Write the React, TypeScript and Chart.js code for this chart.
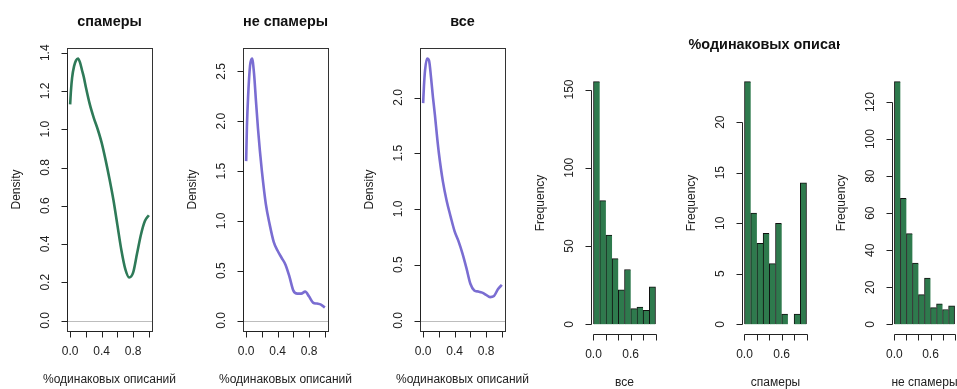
import React, { useEffect, useRef } from 'react';
import { Chart, registerables } from 'chart.js';

Chart.register(...registerables);

// ---------------- data ----------------
const densityX = [0, 0.01, 0.025, 0.05, 0.075, 0.1, 0.125, 0.15, 0.175, 0.2, 0.25, 0.3, 0.35, 0.4, 0.45, 0.5, 0.55, 0.6, 0.65, 0.7, 0.75, 0.8, 0.85, 0.9, 0.95, 1.0];
const densitySpam = [1.13, 1.2, 1.27, 1.33, 1.36, 1.37, 1.35, 1.31, 1.27, 1.22, 1.13, 1.06, 1.0, 0.93, 0.84, 0.74, 0.63, 0.5, 0.37, 0.27, 0.225, 0.25, 0.35, 0.45, 0.52, 0.55];
const densityNonSpam = [1.6, 1.95, 2.25, 2.56, 2.63, 2.48, 2.2, 1.93, 1.7, 1.5, 1.17, 0.96, 0.79, 0.7, 0.63, 0.56, 0.44, 0.3, 0.27, 0.27, 0.29, 0.24, 0.18, 0.17, 0.16, 0.13];
const densityAll = [1.95, 2.1, 2.25, 2.35, 2.33, 2.18, 2.0, 1.84, 1.66, 1.5, 1.25, 1.07, 0.93, 0.8, 0.71, 0.6, 0.47, 0.33, 0.27, 0.26, 0.25, 0.23, 0.21, 0.22, 0.28, 0.32];

const binEdges = [0, 0.1, 0.2, 0.3, 0.4, 0.5, 0.6, 0.7, 0.8, 0.9, 1.0];
const histAll = [155, 79, 57, 42, 22, 35, 10, 11, 9, 24];
const histSpam = [24, 11, 8, 9, 6, 10, 1, 0, 1, 14];
const histNonSpam = [131, 68, 49, 33, 16, 25, 9, 11, 8, 10];

const densityXTicks = [0, 0.2, 0.4, 0.6, 0.8, 1.0];
const densityXLabels = ['0.0', '', '0.4', '', '0.8', ''];
const histXTicks = [0, 0.2, 0.4, 0.6, 0.8, 1.0];
const histXLabels = ['0.0', '', '', '0.6', '', ''];

const spamYTicks = [0, 0.2, 0.4, 0.6, 0.8, 1.0, 1.2, 1.4];
const spamYLabels = ['0.0', '0.2', '0.4', '0.6', '0.8', '1.0', '1.2', '1.4'];
const nonSpamYTicks = [0, 0.5, 1.0, 1.5, 2.0, 2.5];
const nonSpamYLabels = ['0.0', '0.5', '1.0', '1.5', '2.0', '2.5'];
const allYTicks = [0, 0.5, 1.0, 1.5, 2.0];
const allYLabels = ['0.0', '0.5', '1.0', '1.5', '2.0'];

const histAllYTicks = [0, 50, 100, 150];
const histAllYLabels = ['0', '50', '100', '150'];
const histSpamYTicks = [0, 5, 10, 15, 20];
const histSpamYLabels = ['0', '5', '10', '15', '20'];
const histNonSpamYTicks = [0, 20, 40, 60, 80, 100, 120];
const histNonSpamYLabels = ['0', '20', '40', '60', '80', '100', '120'];

const densityTitles = ['спамеры', 'не спамеры', 'все'];
const densityXTitle = '%одинаковых описаний';
const densityYTitle = 'Density';
const histMainTitle = '%одинаковых описаний';
const histXTitles = ['все', 'спамеры', 'не спамеры'];
const histYTitle = 'Frequency';

// ---------------- layout / style ----------------
const W = 957;
const H = 389;
const FONT = '"Liberation Sans", Arial, sans-serif';
const GREEN_LINE = '#2e7a58';
const PURPLE_LINE = '#7a6dd2';
const HIST_FILL = '#2e7a4d';
const TEXT = '#222';

type Box = { left: number; right: number; top: number; bottom: number };

type PanelCfg = {
  kind: 'density' | 'hist';
  box: Box;
  values: number[];
  color: string;
  xTicks: number[];
  xLabels: string[];
  yTicks: number[];
  yLabels: string[];
  title?: string;
  xTitle: string;
  yTitle: string;
  mainTitle?: string;
};

const densityBoxes: Box[] = [
  { left: 67, right: 152, top: 48, bottom: 331 },
  { left: 243, right: 328, top: 48, bottom: 331 },
  { left: 420, right: 505, top: 48, bottom: 331 },
];
const histBoxes: Box[] = [
  { left: 591, right: 658, top: 72, bottom: 334 },
  { left: 742, right: 809, top: 72, bottom: 334 },
  { left: 892, right: 959, top: 72, bottom: 334 },
];

const panels: PanelCfg[] = [
  { kind: 'density', box: densityBoxes[0], values: densitySpam, color: GREEN_LINE, xTicks: densityXTicks, xLabels: densityXLabels, yTicks: spamYTicks, yLabels: spamYLabels, title: densityTitles[0], xTitle: densityXTitle, yTitle: densityYTitle },
  { kind: 'density', box: densityBoxes[1], values: densityNonSpam, color: PURPLE_LINE, xTicks: densityXTicks, xLabels: densityXLabels, yTicks: nonSpamYTicks, yLabels: nonSpamYLabels, title: densityTitles[1], xTitle: densityXTitle, yTitle: densityYTitle },
  { kind: 'density', box: densityBoxes[2], values: densityAll, color: PURPLE_LINE, xTicks: densityXTicks, xLabels: densityXLabels, yTicks: allYTicks, yLabels: allYLabels, title: densityTitles[2], xTitle: densityXTitle, yTitle: densityYTitle },
  { kind: 'hist', box: histBoxes[0], values: histAll, color: HIST_FILL, xTicks: histXTicks, xLabels: histXLabels, yTicks: histAllYTicks, yLabels: histAllYLabels, xTitle: histXTitles[0], yTitle: histYTitle },
  { kind: 'hist', box: histBoxes[1], values: histSpam, color: HIST_FILL, xTicks: histXTicks, xLabels: histXLabels, yTicks: histSpamYTicks, yLabels: histSpamYLabels, xTitle: histXTitles[1], yTitle: histYTitle, mainTitle: histMainTitle },
  { kind: 'hist', box: histBoxes[2], values: histNonSpam, color: HIST_FILL, xTicks: histXTicks, xLabels: histXLabels, yTicks: histNonSpamYTicks, yLabels: histNonSpamYLabels, xTitle: histXTitles[2], yTitle: histYTitle },
];

const crisp = (v: number) => Math.round(v) + 0.5;

function makeRPlugin(p: PanelCfg, idx: number) {
  return {
    id: 'rstyle' + idx,
    beforeDatasetsDraw(chart: any) {
      if (p.kind !== 'density') return;
      const { ctx, chartArea } = chart;
      const y0 = crisp(chart.scales.y.getPixelForValue(0));
      ctx.save();
      ctx.strokeStyle = '#bdbdbd';
      ctx.lineWidth = 1;
      ctx.beginPath();
      ctx.moveTo(chartArea.left, y0);
      ctx.lineTo(chartArea.right, y0);
      ctx.stroke();
      ctx.restore();
    },
    afterDraw(chart: any) {
      const { ctx, chartArea } = chart;
      const xs = chart.scales.x;
      const ys = chart.scales.y;
      ctx.save();
      ctx.strokeStyle = '#222';
      ctx.lineWidth = 1;
      const axisY = crisp(chartArea.bottom);
      const axisX = crisp(chartArea.left);

      if (p.kind === 'density') {
        ctx.strokeStyle = '#333';
        ctx.strokeRect(crisp(chartArea.left), crisp(chartArea.top), Math.round(chartArea.right - chartArea.left), Math.round(chartArea.bottom - chartArea.top));
        ctx.strokeStyle = '#222';
      }

      // x axis
      const xa = crisp(xs.getPixelForValue(p.xTicks[0]));
      const xb = crisp(xs.getPixelForValue(p.xTicks[p.xTicks.length - 1]));
      ctx.beginPath();
      ctx.moveTo(xa, axisY);
      ctx.lineTo(xb, axisY);
      p.xTicks.forEach((t) => {
        const x = crisp(xs.getPixelForValue(t));
        ctx.moveTo(x, axisY);
        ctx.lineTo(x, axisY + 6);
      });
      // y axis
      const ya = crisp(ys.getPixelForValue(p.yTicks[0]));
      const yb = crisp(ys.getPixelForValue(p.yTicks[p.yTicks.length - 1]));
      ctx.moveTo(axisX, ya);
      ctx.lineTo(axisX, yb);
      p.yTicks.forEach((t) => {
        const y = crisp(ys.getPixelForValue(t));
        ctx.moveTo(axisX, y);
        ctx.lineTo(axisX - 6, y);
      });
      ctx.stroke();

      ctx.fillStyle = TEXT;
      ctx.font = `12px ${FONT}`;
      ctx.textAlign = 'center';
      ctx.textBaseline = 'middle';
      p.xTicks.forEach((t, i) => {
        if (!p.xLabels[i]) return;
        ctx.fillText(p.xLabels[i], xs.getPixelForValue(t), chartArea.bottom + 21);
      });
      p.yTicks.forEach((t, i) => {
        if (!p.yLabels[i]) return;
        ctx.save();
        ctx.translate(chartArea.left - 21, ys.getPixelForValue(t));
        ctx.rotate(-Math.PI / 2);
        ctx.fillText(p.yLabels[i], 0, 0);
        ctx.restore();
      });
      const cx = (chartArea.left + chartArea.right) / 2;
      const cy = (chartArea.top + chartArea.bottom) / 2;
      ctx.fillText(p.xTitle, cx, chartArea.bottom + 49);
      ctx.save();
      ctx.translate(chartArea.left - 50, cy);
      ctx.rotate(-Math.PI / 2);
      ctx.fillText(p.yTitle, 0, 0);
      ctx.restore();

      ctx.fillStyle = '#111';
      ctx.font = `bold 14.4px ${FONT}`;
      if (p.title) {
        ctx.fillText(p.title, cx, 22);
      }
      if (p.mainTitle) {
        ctx.save();
        ctx.beginPath();
        ctx.rect(0, 0, 840, H);
        ctx.clip();
        ctx.fillText(p.mainTitle, cx, 45);
        ctx.restore();
      }
      ctx.restore();
    },
  };
}

function buildConfig(p: PanelCfg, idx: number): any {
  const ymax = Math.max(...p.values);
  const padding = {
    left: p.box.left,
    right: W - p.box.right,
    top: p.box.top,
    bottom: H - p.box.bottom,
  };
  const common = {
    responsive: false,
    maintainAspectRatio: false,
    animation: false,
    devicePixelRatio: 1,
    events: [],
    layout: { padding },
    plugins: { legend: { display: false }, title: { display: false }, tooltip: { enabled: false } },
    scales: {
      x: { type: 'linear', display: false, min: -0.04, max: 1.04, offset: false },
      y: { type: 'linear', display: false, min: -0.04 * ymax, max: 1.04 * ymax, beginAtZero: false },
    },
  };
  if (p.kind === 'density') {
    return {
      type: 'line',
      data: {
        datasets: [
          {
            data: densityX.map((x, i) => ({ x, y: p.values[i] })),
            borderColor: p.color,
            borderWidth: 2.6,
            pointRadius: 0,
            fill: false,
            cubicInterpolationMode: 'monotone',
          },
        ],
      },
      options: common,
      plugins: [makeRPlugin(p, idx)],
    };
  }
  const last = p.values.length - 1;
  return {
    type: 'bar',
    data: {
      datasets: [
        {
          data: p.values.map((v, i) => ({ x: (binEdges[i] + binEdges[i + 1]) / 2, y: v })),
          backgroundColor: p.color,
          borderColor: '#111',
          borderWidth: (c: any) => ({ left: 1, top: 1, bottom: 0, right: c.dataIndex === last ? 1 : 0 }),
          borderSkipped: false,
          barPercentage: 1,
          categoryPercentage: 1,
        },
      ],
    },
    options: common,
    plugins: [makeRPlugin(p, idx)],
  };
}

function Panel({ p, idx }: { p: PanelCfg; idx: number }) {
  const ref = useRef<HTMLCanvasElement | null>(null);
  useEffect(() => {
    if (!ref.current) return;
    const chart = new Chart(ref.current, buildConfig(p, idx));
    return () => chart.destroy();
  }, [p, idx]);
  return (
    <canvas
      ref={ref}
      width={W}
      height={H}
      style={{ position: 'absolute', left: 0, top: 0, width: W, height: H }}
    />
  );
}

export default function App() {
  return (
    <div
      style={{
        position: 'absolute',
        left: 0,
        top: 0,
        width: W,
        height: H,
        overflow: 'hidden',
        background: '#fff',
      }}
    >
      {panels.map((p, i) => (
        <Panel key={i} p={p} idx={i} />
      ))}
    </div>
  );
}
